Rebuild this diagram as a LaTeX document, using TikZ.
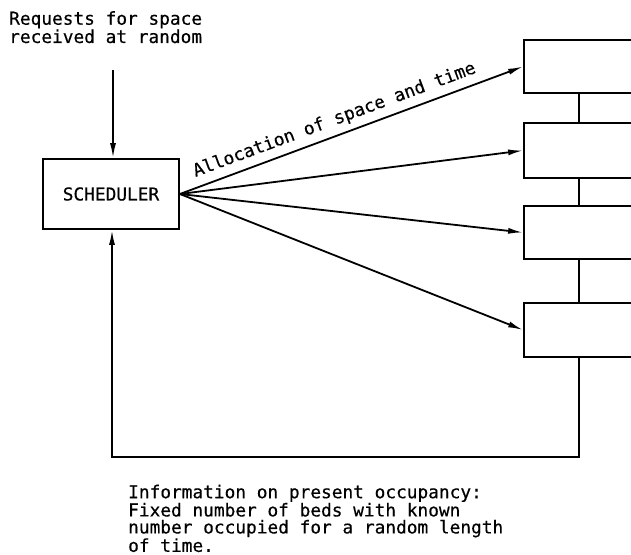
\documentclass[tikz,border=0pt]{standalone}
\usepackage{fontspec}
\setmonofont[FakeBold=0.4]{DejaVu Sans Mono}
\usetikzlibrary{arrows.meta}
\tikzset{
  ln/.style={line width=1.8pt},
  arr/.style={line width=1.8pt, -{Latex[length=15pt,width=6pt]}},
  boxx/.style={draw, line width=1.8pt, inner sep=0pt},
  lbl/.style={font=\ttfamily\fontsize{17.8}{17}\selectfont},
}
\begin{document}
\begin{tikzpicture}[x=1pt,y=-1pt]
\useasboundingbox (0,0) rectangle (631,554);
\clip (0,0) rectangle (631,554);
% scheduler
\node[boxx, lbl, minimum width=136pt, minimum height=70pt] (sch) at (111,194) {SCHEDULER};
% right boxes (clipped at the right edge)
\node[boxx, minimum width=200pt, minimum height=53pt] (b1) at (624,66.5) {};
\node[boxx, minimum width=200pt, minimum height=55pt] (b2) at (624,150.5) {};
\node[boxx, minimum width=200pt, minimum height=53pt] (b3) at (624,232.5) {};
\node[boxx, minimum width=200pt, minimum height=54pt] (b4) at (624,330) {};
\coordinate (vx) at (579,0);
\draw[ln] (b1.south -| vx) -- (b2.north -| vx);
\draw[ln] (b2.south -| vx) -- (b3.north -| vx);
\draw[ln] (b3.south -| vx) -- (b4.north -| vx);
% texts
\node[lbl, align=left, anchor=north west, inner sep=0pt] (req) at (9,11) {Requests for space\\received at random};
\node[lbl, align=left, anchor=north west, inner sep=0pt] (info) at (128,484.5) {Information on present occupancy:\\Fixed number of beds with known\\number occupied for a random length\\of time.};
% input arrow
\coordinate (rin) at (113,70);
\draw[arr] (rin) -- (rin |- sch.north);
% allocation arrows
\draw[arr] (sch.east) -- (b1.west) node[lbl, sloped, pos=0.466, anchor=base, yshift=10.5pt, inner sep=0pt] (alloc) {Allocation of space and time};
\draw[arr] (sch.east) -- (b2.west);
\draw[arr] (sch.east) -- (b3.west);
\draw[arr] (sch.east) -- (b4.west);
% feedback
\coordinate (fb) at (112,457);
\draw[arr] (b4.south -| vx) |- (fb) -- (fb |- sch.south);
\end{tikzpicture}
\end{document}
